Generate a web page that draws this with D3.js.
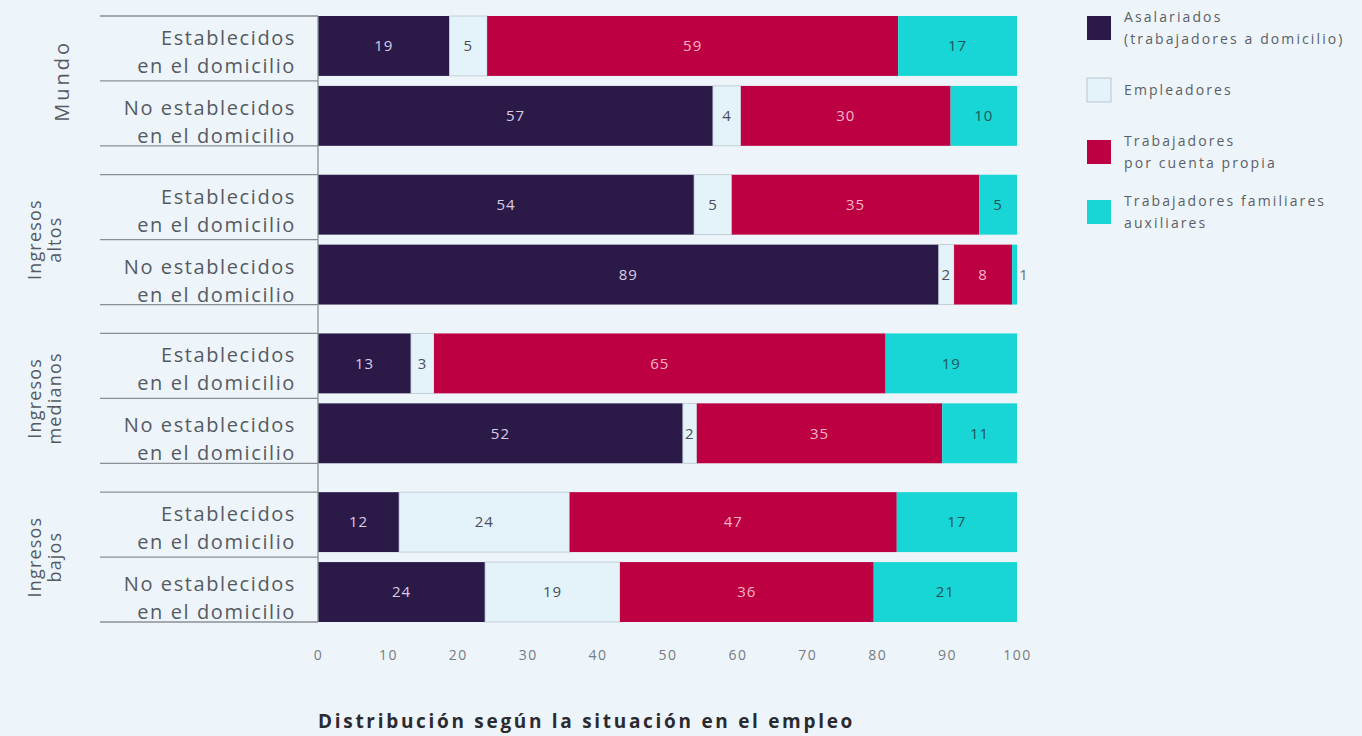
<!DOCTYPE html>
<html><head><meta charset="utf-8">
<script src="https://cdn.jsdelivr.net/npm/d3@7"></script>
<style>
html,body{margin:0;padding:0;background:#eef5fa;}
svg{display:block;font-family:"Open Sans","Noto Sans",sans-serif;}
</style></head>
<body>
<svg id="chart" width="1362" height="736"></svg>
<script>
// ---- data ----
const groups = ["Mundo", "Ingresos altos", "Ingresos medianos", "Ingresos bajos"];
const groupLines = [["Mundo"], ["Ingresos", "altos"], ["Ingresos", "medianos"], ["Ingresos", "bajos"]];
const rowTypes = ["est", "no"];
const rowLabels = [["Establecidos", "en el domicilio"], ["No establecidos", "en el domicilio"]];
const seriesKeys = ["asal", "empl", "cuenta", "fam"];
const seriesNames = [["Asalariados", "(trabajadores a domicilio)"], ["Empleadores"], ["Trabajadores", "por cuenta propia"], ["Trabajadores familiares", "auxiliares"]];
// values per row (group, row type), in order of seriesKeys
const asalariados  = [18.8, 56.5, 53.8, 88.8, 13.3, 52.2, 11.6, 23.9];
const empleadores  = [5.4, 4.0, 5.4, 2.2, 3.3, 2.0, 24.4, 19.3];
const cuentaPropia = [58.8, 30.0, 35.4, 8.3, 64.6, 35.1, 46.8, 36.3];
const familiares   = [17.0, 9.5, 5.4, 0.7, 18.8, 10.7, 17.2, 20.5];
const xTicks = [0, 10, 20, 30, 40, 50, 60, 70, 80, 90, 100];
const xTitle = "Distribución según la situación en el empleo";

const colors = ["#2b1a48", "#e4f2f9", "#bd0041", "#19d6d6"];
const textColors = ["#d9cde6", "#4a4d58", "#f6b4c9", "#1f5557"];

const rows = [];
groups.forEach((g, gi) => rowTypes.forEach((t, ti) => {
  const i = gi * 2 + ti;
  rows.push({group: g, type: t, asal: asalariados[i], empl: empleadores[i], cuenta: cuentaPropia[i], fam: familiares[i]});
}));

const svg = d3.select("#chart");
const x = d3.scaleLinear().domain([0, 100]).range([318, 1017]);
const yG = d3.scaleBand().domain(groups).range([16, 622]).paddingInner(0.182);
const yR = d3.scaleBand().domain(rowTypes).range([0, yG.bandwidth()]).paddingInner(0.143);

const stack = d3.stack().keys(seriesKeys)(rows);

// separator lines
const sepG = svg.append("g");
groups.forEach(g => {
  const top = yG(g), bot = yG(g) + yG.bandwidth();
  const mid = yG(g) + yR("est") + yR.bandwidth() + (yR.step() - yR.bandwidth()) / 2;
  [top, mid, bot].forEach(yy => {
    sepG.append("line").attr("x1", 100).attr("x2", x(0)).attr("y1", yy).attr("y2", yy)
      .attr("stroke", "#8a8f96").attr("stroke-width", 1.3);
  });
});

// bars
stack.forEach((layer, si) => {
  const gL = svg.append("g");
  layer.forEach((d, ri) => {
    const r = rows[ri];
    const y0 = yG(r.group) + yR(r.type);
    gL.append("rect")
      .attr("x", x(d[0])).attr("y", y0)
      .attr("width", x(d[1]) - x(d[0])).attr("height", yR.bandwidth())
      .attr("fill", colors[si])
      .attr("stroke", si === 1 ? "#b9c6cf" : "none").attr("stroke-width", 0.8);
    const v = d[1] - d[0];
    const outside = v < 1.5;
    gL.append("text")
      .attr("x", outside ? x(100) + 7 : (x(d[0]) + x(d[1])) / 2)
      .attr("y", y0 + yR.bandwidth() / 2)
      .attr("dy", "0.35em")
      .attr("text-anchor", "middle")
      .attr("font-size", 15)
      .attr("letter-spacing", 1)
      .attr("fill", outside ? "#6a6e76" : textColors[si])
      .text(Math.round(v));
  });
});

// vertical axis line
svg.append("line").attr("x1", x(0)).attr("x2", x(0)).attr("y1", 16).attr("y2", 622)
  .attr("stroke", "#8a8f96").attr("stroke-width", 1.3);

// row labels
rows.forEach(r => {
  const yc = yG(r.group) + yR(r.type) + yR.bandwidth() / 2;
  const lines = rowLabels[rowTypes.indexOf(r.type)];
  const t = svg.append("text").attr("text-anchor", "end").attr("font-size", 20)
    .attr("letter-spacing", 1.6).attr("fill", "#555a62");
  lines.forEach((ln, li) => {
    t.append("tspan").attr("x", 296).attr("y", yc - 1 + li * 28).text(ln);
  });
});

// group labels
groups.forEach((g, gi) => {
  const yc = yG(g) + yG.bandwidth() / 2;
  const lines = groupLines[gi];
  const single = lines.length === 1;
  const t = svg.append("text").attr("text-anchor", "middle").attr("font-size", single ? 20 : 18)
    .attr("letter-spacing", single ? 3 : 1.2).attr("fill", "#555a62")
    .attr("transform", `translate(${single ? 69 : 41},${yc}) rotate(-90)`);
  lines.forEach((ln, li) => {
    t.append("tspan").attr("x", 0).attr("y", li * 20).text(ln);
  });
});

// x axis
const xAxis = d3.axisBottom(x).tickValues(xTicks).tickSize(0).tickPadding(0);
const ax = svg.append("g").attr("transform", "translate(0,650)").call(xAxis);
ax.select(".domain").remove();
ax.selectAll("text").attr("font-size", 14).attr("letter-spacing", 1.5).attr("fill", "#777b82")
  .attr("font-family", "'Open Sans','Noto Sans',sans-serif");

svg.append("text").attr("x", 318).attr("y", 728).attr("font-size", 19).attr("font-weight", "bold")
  .attr("letter-spacing", 2.7).attr("fill", "#2a2a30").text(xTitle);

// legend
const legendY = [28, 90, 152, 212];
seriesNames.forEach((nm, i) => {
  const yc = legendY[i];
  svg.append("rect").attr("x", 1087).attr("y", yc - 12).attr("width", 24).attr("height", 24)
    .attr("fill", colors[i]).attr("stroke", i === 1 ? "#b9c6cf" : "none");
  const t = svg.append("text").attr("font-size", 14).attr("letter-spacing", 2.1).attr("fill", "#5a5e66");
  const n = nm.length;
  nm.forEach((ln, li) => {
    t.append("tspan").attr("x", 1124).attr("y", yc + 5 + (li - (n - 1) / 2) * 22).text(ln);
  });
});
</script>
</body></html>
